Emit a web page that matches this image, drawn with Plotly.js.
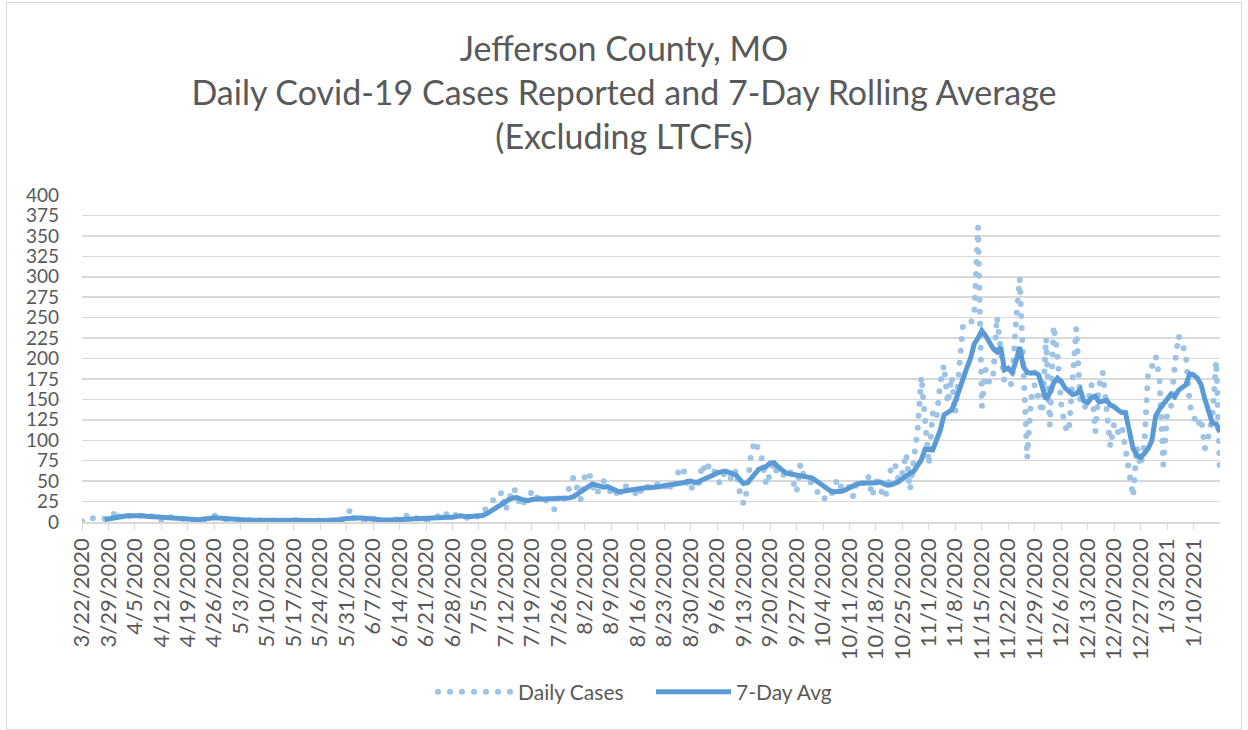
<!DOCTYPE html>
<html>
<head>
<meta charset="utf-8">
<script src="https://cdn.plot.ly/plotly-3.0.1.min.js"></script>
<style>
html,body{margin:0;padding:0;background:#fff;}
#wrap{position:relative;width:1248px;height:730px;}
#chart{width:1248px;height:730px;}
#frame{position:absolute;left:6px;top:2px;width:1234px;height:726px;border:1px solid #d9d9d9;pointer-events:none;}
</style>
</head>
<body>
<div id="wrap"><div id="chart"></div><div id="frame"></div></div>
<script>
// ---- data ----
const startDate = '2020-03-22';
const endDate = '2021-01-17';
const lastLabelDate = '2021-01-10';
const seriesNames = ['Daily Cases', '7-Day Avg'];
const titleLines = ['Jefferson County, MO', 'Daily Covid-19 Cases Reported and 7-Day Rolling Average', '(Excluding LTCFs)'];

const dailyCases = [
  1,3,2,5,4,3,4,3,6,15,
  5,6,8,7,8,6,9,7,6,8,
  5,0,4,7,5,4,5,3,2,4,
  1,3,2,5,4,8,6,5,3,2,
  4,3,2,1,3,2,3,2,1,2,
  1,3,2,1,2,1,2,3,1,2,
  1,2,1,2,3,2,1,3,2,4,
  5,16,4,5,3,0,6,4,6,3,
  2,1,2,3,2,4,8,3,4,5,
  3,0,4,5,7,6,12,5,6,9,
  8,7,5,9,8,6,9,18,22,28,
  28,37,14,30,42,35,18,25,30,37,
  28,33,30,26,20,15,34,30,28,44,
  55,41,27,56,62,45,33,42,50,44,
  35,40,29,46,43,42,38,30,40,37,
  46,44,47,42,40,50,38,48,66,66,
  48,38,52,41,71,60,71,66,51,47,
  62,58,51,64,36,22,41,86,99,87,
  75,45,60,73,58,55,60,65,51,36,
  71,55,50,48,40,34,27,32,30,45,
  53,40,38,44,31,50,51,45,55,31,
  50,45,29,37,67,72,50,60,84,39,
  74,112,178,117,70,133,125,170,192,145,
  178,133,190,240,240,242,255,361,141,186,
  170,179,251,214,170,166,170,241,298,190,
  78,150,168,150,133,225,118,240,206,143,
  117,110,165,237,150,139,145,168,110,166,
  183,139,92,121,110,118,86,57,31,92,
  68,96,186,190,203,175,70,131,139,190,
  228,218,203,143,130,117,127,90,106,130,
  197,57
];

const rollingAvg = [
  null,null,null,null,null,null,3,4,5,6,
  6.5,7,7.5,7.5,8,7.7,7.5,7,6.5,6,
  5.8,5.5,5.3,5,4.8,4.5,4.2,3.8,3.3,3,
  2.5,2.8,3.5,4.5,5,5.3,5,4.5,4,3.7,
  3.2,2.8,2.5,2.4,2.2,2,2,1.9,1.8,1.7,
  1.6,1.6,1.6,1.6,1.6,1.6,1.6,1.7,1.7,1.6,
  1.6,1.6,1.7,1.8,1.9,2,2.1,2.3,2.5,3.2,
  4.3,4.9,5,5,4.8,4.6,4.5,4,3.4,2.7,
  2,2,2.2,2.4,2.6,3,3.5,3.7,4,4.5,
  4.8,5,5,5.2,5.4,5.5,5.6,5.7,5.7,7,
  7.5,7,6.5,6.8,7.2,7.6,8,10,13,16,
  19.5,23,25.5,27.5,29.5,30,28,26.5,26,27.5,
  28.6,28.5,28,28,29,29.4,29,28.5,28,29.5,
  31,34,36,40,43,46.5,45,43,42.5,43.3,
  41,39,37,37.5,38.5,39.5,40,41,41.5,42,
  42,42,42.4,43.5,44.5,45,45.5,46.5,47,48,
  49.5,50,48.5,49,51.5,53,55,57.5,60,61.5,
  62.4,61,59.5,57.5,52,47,48,54,60.5,64.5,
  66.5,68,72,72.5,68,64,60.5,59,58,56.5,
  56,55.5,55,54,51,48,45.5,42,38,37,
  36.7,37.5,39.5,42.4,44.5,46.5,47.3,47.3,47.3,47.5,
  48,49,47.5,45,45.5,47,49,53,57,59.5,
  62,68,76,89,89,88,100,112,131,134,
  137,148,163,174,188,200,218,225,234,228,
  220,212,208,214,186,188,183,196,214,190,
  183,182,183,180,165,150,158,170,176,172,
  164,159,156,157,162,148,146,152,154,147,
  148,149,143,141,137,134,134,115,90,82,
  79,84,90,100,130,138,143,150,156,153,
  161,164,168,181,180,176,168,150,133,121,
  120,110
];

// weekly tick dates
const DAY = 86400000;
const tickVals = [];
for (let t = Date.parse(startDate + 'T00:00:00Z'); t <= Date.parse(lastLabelDate + 'T00:00:00Z'); t += 7 * DAY) {
  tickVals.push(new Date(t).toISOString().slice(0, 10));
}

const FONT = 'Lato, "Open Sans", sans-serif';
const GREY = '#595959';
const GRID = '#d9d9d9';

const traces = [
  {
    type: 'scatter', mode: 'lines', name: seriesNames[0],
    x0: startDate, dx: DAY, y: dailyCases,
    line: {color: '#9dc3e6', width: 6, dash: '0px,12px'},
    hoverinfo: 'skip'
  },
  {
    type: 'scatter', mode: 'lines', name: seriesNames[1],
    x0: startDate, dx: DAY, y: rollingAvg,
    line: {color: '#5b9bd5', width: 5, shape: 'linear'},
    connectgaps: false,
    hoverinfo: 'skip'
  }
];

const layout = {
  width: 1248, height: 730,
  margin: {l: 82, r: 28, t: 195, b: 208},
  paper_bgcolor: '#fff', plot_bgcolor: '#fff',
  font: {family: FONT, color: GREY},
  title: {
    text: titleLines.join('<br>'),
    font: {family: FONT, size: 34, color: GREY},
    x: 0.5, xanchor: 'center', xref: 'container',
    y: 0.917, yanchor: 'top', yref: 'container'
  },
  xaxis: {
    type: 'date',
    range: [startDate, endDate],
    tickmode: 'array', tickvals: tickVals,
    tickformat: '%-m/%-d/%Y', tickangle: -90,
    tickfont: {family: FONT, size: 22, color: GREY},
    ticks: 'outside', ticklen: 6, tickcolor: GRID,
    showline: true, linecolor: GRID, linewidth: 1.5,
    showgrid: false, zeroline: false, automargin: false,
    fixedrange: true
  },
  yaxis: {
    range: [0, 400], dtick: 25, tick0: 0,
    tickfont: {family: FONT, size: 19, color: GREY},
    showgrid: true, gridcolor: GRID, gridwidth: 1.5,
    zeroline: false, showline: false, ticks: '',
    ticklabelstandoff: 22, automargin: false,
    fixedrange: true
  },
  showlegend: true,
  legend: {
    orientation: 'h', x: 0.5, xanchor: 'center',
    y: -0.52, yanchor: 'middle',
    font: {family: FONT, size: 21, color: GREY},
    itemwidth: 75, entrywidth: 128, entrywidthmode: 'pixels',
    traceorder: 'normal'
  }
};

Plotly.newPlot('chart', traces, layout, {staticPlot: true, displayModeBar: false}).then(function () {
  const tr = document.querySelectorAll('.scatterlayer .trace');
  if (tr.length) {
    tr[0].querySelectorAll('path.js-line').forEach(function (p) { p.style.strokeLinecap = 'round'; });
  }
  const lt = document.querySelectorAll('.legend .traces');
  if (lt.length) {
    lt[0].querySelectorAll('.legendlines path').forEach(function (p) { p.style.strokeLinecap = 'round'; });
  }
});
</script>
</body>
</html>
